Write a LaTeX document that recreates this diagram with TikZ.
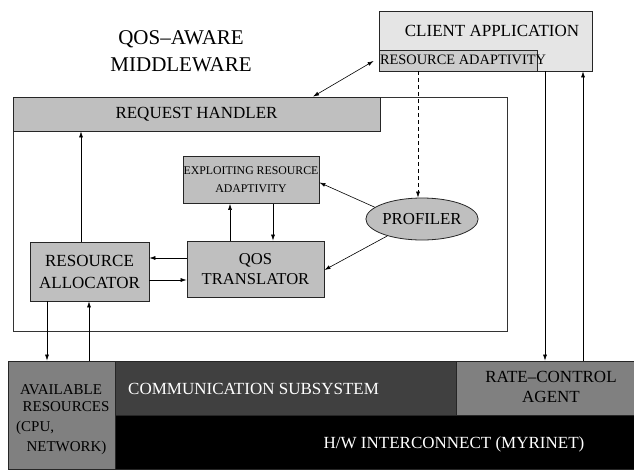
\documentclass[tikz,border=0pt]{standalone}
\usepackage{fontspec}
\setmainfont{Liberation Serif}
\usetikzlibrary{arrows.meta,calc,shapes.geometric}

\definecolor{boxgray}{gray}{0.75}
\definecolor{clientgray}{gray}{0.9}
\definecolor{adaptgray}{gray}{0.8}
\definecolor{midgray}{gray}{0.5}
\definecolor{deepgray}{gray}{0.25}
\newcommand\fsz[2]{\fontsize{#1}{#2}\selectfont}

\begin{document}
\begin{tikzpicture}[x=1pt,y=-1pt,
  box/.style={draw=black!85, line width=0.8pt, fill=boxgray, inner sep=0pt, align=center},
  base/.style={draw=black!85, line width=0.8pt, inner sep=0pt},
  lbl/.style={inner sep=0pt, align=center},
  arr/.style={-{Latex[length=6pt,width=4pt]}, line width=0.6pt},
  darr/.style={{Latex[length=6pt,width=4pt]}-{Latex[length=6pt,width=4pt]}, line width=0.6pt}]
\useasboundingbox (0,0) rectangle (634,469);

% middleware frame and its title
\node[draw=black!80, line width=0.8pt, minimum width=494pt, minimum height=234pt, inner sep=0pt] (frame) at (260,214) {};
\node[lbl, font=\fsz{21}{27}] (title) at (181,51.5) {QOS–AWARE\\MIDDLEWARE};

% client application
\node[box, fill=clientgray, minimum width=213pt, minimum height=60pt] (client) at (485.5,41) {};
\node[lbl, font=\fsz{17}{20}] (clienttxt) at (492,31) {CLIENT APPLICATION};
\node[box, fill=adaptgray, minimum width=158pt, minimum height=21pt] (resad) at (458,60.5) {};
\node[lbl, font=\fsz{14.4}{17}] (resadtxt) at (463,59.5) {RESOURCE ADAPTIVITY};

% middleware components
\node[box, minimum width=367pt, minimum height=34pt, font=\fsz{17}{20}] (rh) at (196.5,114) {REQUEST HANDLER};
\node[box, minimum width=136pt, minimum height=47pt, font=\fsz{11.8}{18}] (exploit) at (251,180) {EXPLOITING RESOURCE\\ADAPTIVITY};
\node[box, minimum width=137pt, minimum height=56pt, font=\fsz{16.6}{20}] (qos) at (255.5,269) {QOS\\TRANSLATOR};
\node[box, minimum width=119pt, minimum height=59pt, font=\fsz{17}{22}] (alloc) at (89.5,271.5) {RESOURCE\\ALLOCATOR};
\node[ellipse, draw=black!85, fill=boxgray, line width=0.8pt, inner sep=0pt,
      minimum width=110pt, minimum height=42pt, font=\fsz{16.8}{20}] (prof) at (422,219) {PROFILER};

% system layers
\node[base, fill=midgray, minimum width=107pt, minimum height=108pt] (avail) at (61.5,415) {};
\node[base, fill=deepgray, minimum width=341pt, minimum height=54pt] (comm) at (285.5,388) {};
\node[base, fill=midgray, minimum width=178pt, minimum height=54pt] (rate) at (545,388) {};
\node[base, fill=black, minimum width=519pt, minimum height=54pt] (hw) at (374.5,442) {};

\node[lbl, font=\fsz{15}{18}] (av1) at (61,390) {AVAILABLE};
\node[lbl, font=\fsz{15}{18}] (av2) at (66,407) {RESOURCES};
\node[lbl, font=\fsz{15}{18}, anchor=west] (av3) at (16,428) {(CPU,};
\node[lbl, font=\fsz{15}{18}] (av4) at (66.5,448) {NETWORK)};
\node[lbl, font=\fsz{17}{20}, text=white, anchor=west] (commtxt) at (128,389) {COMMUNICATION SUBSYSTEM};
\node[lbl, font=\fsz{17}{20}] (ratetxt) at (551,387) {RATE–CONTROL\\AGENT};
\node[lbl, font=\fsz{17}{20}, text=white] (hwtxt) at (454,444) {H/W INTERCONNECT (MYRINET)};

% connectors
\draw[darr] ($(rh.north)+(116.5,0)$) -- ($(resad.west)+(-5,0.5)$);
\draw[arr, dash pattern=on 4pt off 3pt] ($(resad.south)+(-40,0)$) -- ($(prof.north)+(-4,0)$);
\draw[arr] (prof.166) -- ($(exploit.east)+(0,2.5)$);
\draw[arr] (prof.206) -- ($(qos.east)+(0,1)$);
\draw[arr] ($(qos.north)+(-25.5,0)$) coordinate (u1) -- (u1 |- exploit.south);
\draw[arr] ($(exploit.south)+(22,0)$) coordinate (d1) -- (d1 |- qos.north);
\draw[arr] ($(qos.west)+(0,-11)$) coordinate (l1) -- (l1 -| alloc.east);
\draw[arr] ($(alloc.east)+(0,8.5)$) coordinate (r1) -- (r1 -| qos.west);
\draw[arr] ($(alloc.north)+(-8.5,0)$) coordinate (a1) -- (a1 |- rh.south);
\draw[arr] ($(alloc.south)+(-42.5,0)$) coordinate (a2) -- (a2 |- avail.north);
\draw[arr] ($(avail.north)+(27.5,0)$) coordinate (a3) -- (a3 |- alloc.south);
\draw[arr] ($(client.south)+(59.5,0)$) coordinate (c1) -- (c1 |- rate.north);
\draw[arr] ($(rate.north)+(38,0)$) coordinate (c2) -- (c2 |- client.south);
\end{tikzpicture}
\end{document}
